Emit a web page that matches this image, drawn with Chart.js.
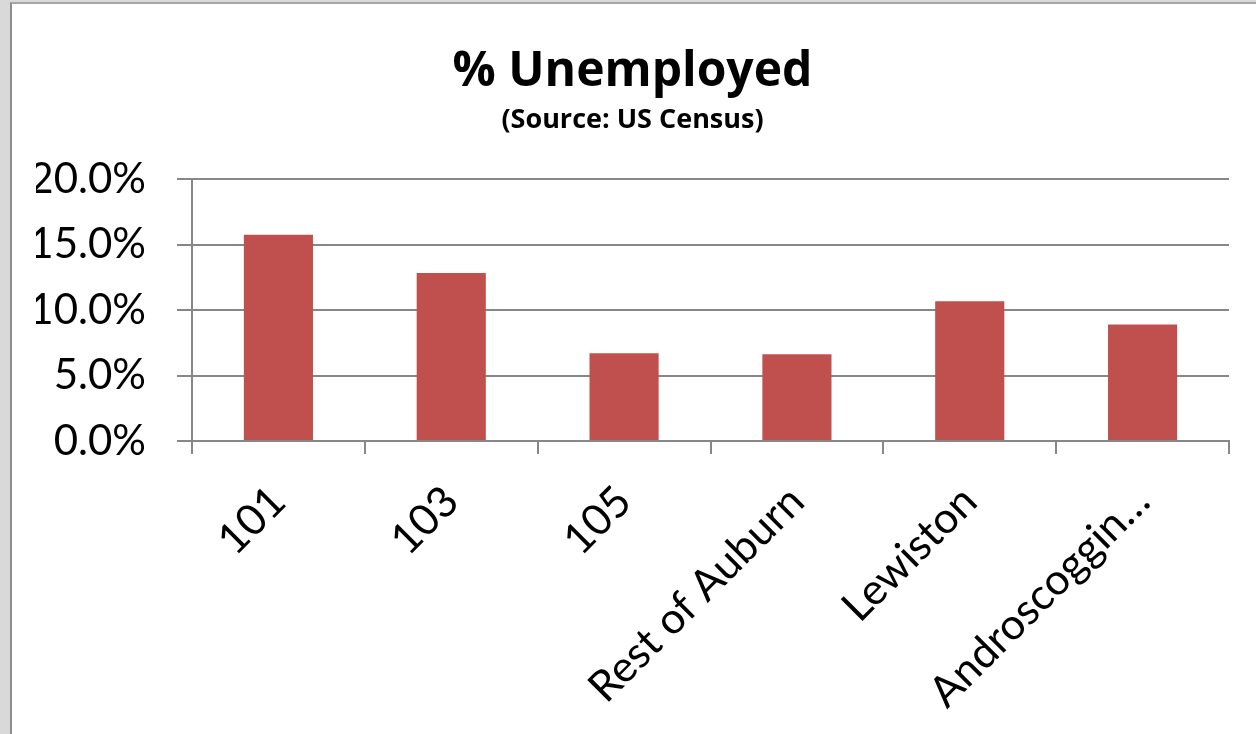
<!DOCTYPE html>
<html>
<head>
<meta charset="utf-8">
<script src="https://cdn.jsdelivr.net/npm/chart.js@4/dist/chart.umd.min.js"></script>
<style>
  html, body { margin: 0; padding: 0; background: #d9d9d9; width: 1256px; height: 734px; overflow: hidden; }
  #frame { position: absolute; left: 10px; top: 2px; width: 1244px; height: 730px;
           border-left: 2px solid #8c8c8c; border-top: 2px solid #a6a6a6; background: #ffffff; }
  canvas { display: block; }
</style>
</head>
<body>
<div id="frame"><canvas id="c" width="1244" height="730"></canvas></div>
<script>
const categories = ["101", "103", "105", "Rest of Auburn", "Lewiston", "Androscoggin…"];
const unemployedPct = [15.75, 12.82, 6.69, 6.62, 10.66, 8.9];
const yTicks = [0, 5, 10, 15, 20];
const titleText = "% Unemployed";
const subtitleText = "(Source: US Census)";

const FONT = "Lato, 'Open Sans', sans-serif";
const TITLE_FONT = "'Open Sans', Lato, sans-serif";
const gridColor = "#878787";

new Chart(document.getElementById("c"), {
  type: "bar",
  data: {
    labels: categories,
    datasets: [{
      data: unemployedPct,
      backgroundColor: "#c0504d",
      borderWidth: 0,
      categoryPercentage: 1.0,
      barPercentage: 0.4
    }]
  },
  options: {
    responsive: false,
    animation: false,
    devicePixelRatio: 1,
    layout: { padding: { left: 24, right: 27, top: 0, bottom: 0 } },
    plugins: {
      legend: { display: false },
      tooltip: { enabled: false },
      title: {
        display: true, text: titleText, color: "#000",
        font: { family: TITLE_FONT, size: 48, weight: "bold", lineHeight: 1.2 },
        padding: { top: 40, bottom: 0 }
      },
      subtitle: {
        display: true, text: subtitleText, color: "#000",
        font: { family: TITLE_FONT, size: 27, weight: "bold", lineHeight: 1.2 },
        padding: { top: 3, bottom: 42 }
      }
    },
    scales: {
      x: {
        offset: true,
        grid: { display: true, drawOnChartArea: false, drawTicks: true, tickLength: 13, color: gridColor, lineWidth: 2, offset: true },
        border: { display: true, color: gridColor, width: 2 },
        ticks: {
          color: "#000", font: { family: FONT, size: 43, lineHeight: 1.2 },
          minRotation: 45, maxRotation: 45, autoSkip: false, padding: 22, labelOffset: 0
        },
        afterFit: (s) => { s.height = 293; }
      },
      y: {
        min: 0, max: 20,
        afterBuildTicks: (s) => { s.ticks = yTicks.map(v => ({ value: v })); },
        grid: { color: gridColor, lineWidth: 2, tickLength: 15, drawTicks: true },
        border: { display: true, color: gridColor, width: 2 },
        ticks: {
          color: "#000", font: { family: FONT, size: 42 }, padding: 31,
          callback: (v) => v.toFixed(1) + "%"
        },
        afterFit: (s) => { s.width = 156; }
      }
    }
  }
});
</script>
</body>
</html>
